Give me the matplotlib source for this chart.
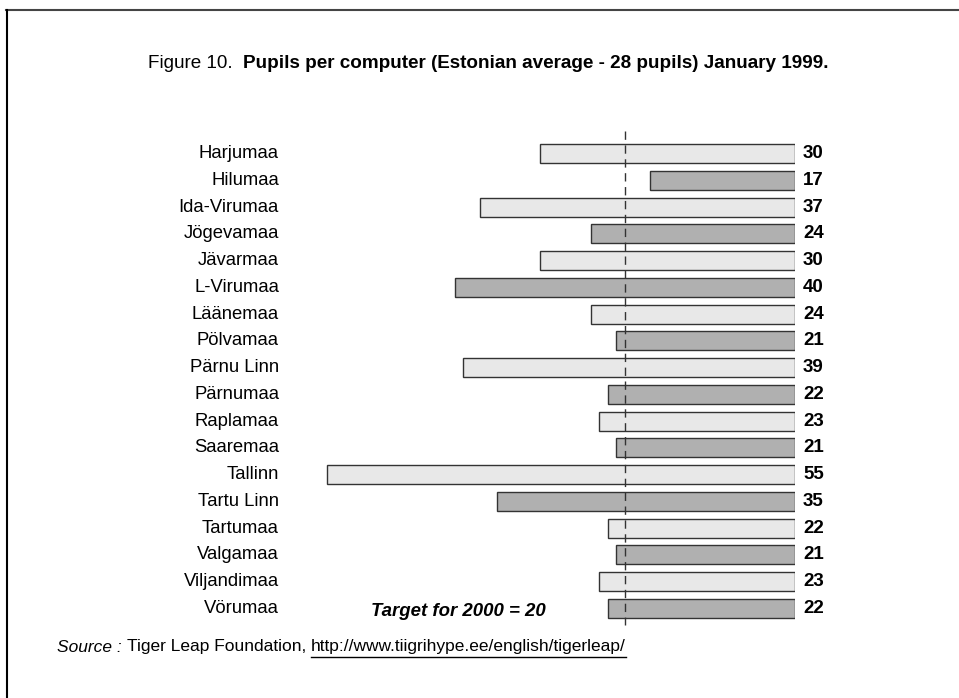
import matplotlib.pyplot as plt
from matplotlib.lines import Line2D

counties = ['Harjumaa', 'Hilumaa', 'Ida-Virumaa', 'Jögevamaa', 'Jävarmaa', 'L-Virumaa',
            'Läänemaa', 'Pölvamaa', 'Pärnu Linn', 'Pärnumaa', 'Raplamaa', 'Saaremaa',
            'Tallinn', 'Tartu Linn', 'Tartumaa', 'Valgamaa', 'Viljandimaa', 'Vörumaa']
pupils = [30, 17, 37, 24, 30, 40, 24, 21, 39, 22, 23, 21, 55, 35, 22, 21, 23, 22]
target = 20

plt.rcParams['font.family'] = ['Liberation Sans', 'DejaVu Sans']

W, H = 959, 698
fig = plt.figure(figsize=(W / 100, H / 100), dpi=100)

# axes placed in pixel terms: value 0 at x=795, 8.51 px per pupil
px_per = 8.51
ax_left, ax_right = 300, 795
ax_top, ax_bot = 125, 630
ax = fig.add_axes([ax_left / W, 1 - ax_bot / H, (ax_right - ax_left) / W, (ax_bot - ax_top) / H])
ax.set_xlim((ax_right - ax_left) / px_per, 0)
row0, step = 153.5, 26.76
ax.set_ylim((ax_bot - row0) / step, (ax_top - row0) / step)
ax.axis('off')

colors = ['#e8e8e8' if i % 2 == 0 else '#b0b0b0' for i in range(len(counties))]
ax.barh(range(len(counties)), pupils, height=0.71, color=colors,
        edgecolor='#333333', linewidth=1.0)

for i, (name, v) in enumerate(zip(counties, pupils)):
    ax.annotate(name, xy=(0, i), xycoords=('axes fraction', 'data'),
                xytext=(-21 * 0.72, 0), textcoords='offset points',
                ha='right', va='center', fontsize=13.3)
    ax.annotate(str(v), xy=(0, i), xytext=(8 * 0.72, 0), textcoords='offset points',
                ha='left', va='center', fontsize=13.5, fontweight='bold')

ax.plot([target, target], [(131 - row0) / step, (625 - row0) / step],
        color='#333333', linewidth=1.0, linestyle=(0, (6, 4)))

ax.text(458 / W, 1 - 612 / H, 'Target for 2000 = 20', transform=fig.transFigure,
        ha='center', va='center', fontsize=13.4, fontweight='bold', style='italic')

fig.canvas.draw()
r = fig.canvas.get_renderer()
t1 = fig.text(148 / W, 1 - 63 / H, 'Figure 10.  ', ha='left', va='center', fontsize=13.6)
bb = t1.get_window_extent(r)
fig.text(bb.x1 / W, 1 - 63 / H, 'Pupils per computer (Estonian average - 28 pupils) January 1999.',
         ha='left', va='center', fontsize=13.6, fontweight='bold')

s1 = fig.text(57 / W, 1 - 647 / H, 'Source : ', ha='left', va='center', fontsize=12.5, style='italic')
bb = s1.get_window_extent(r)
s2 = fig.text(bb.x1 / W, 1 - 647 / H, 'Tiger Leap Foundation, ', ha='left', va='center', fontsize=12.5)
bb = s2.get_window_extent(r)
s3 = fig.text(bb.x1 / W, 1 - 647 / H, 'http://www.tiigrihype.ee/english/tigerleap/',
              ha='left', va='center', fontsize=12.5)
bb = s3.get_window_extent(r)
fig.add_artist(Line2D([bb.x0 / W, bb.x1 / W], [(H - 657) / H] * 2, color='black', linewidth=1.0))

# frame: top and left edges only
fig.add_artist(Line2D([6 / W, 1], [1 - 9.5 / H] * 2, color='#444444', linewidth=1.5))
fig.add_artist(Line2D([6.5 / W] * 2, [0, 1 - 9.5 / H], color='black', linewidth=1.5))

fig.savefig('out.png', dpi=100)
